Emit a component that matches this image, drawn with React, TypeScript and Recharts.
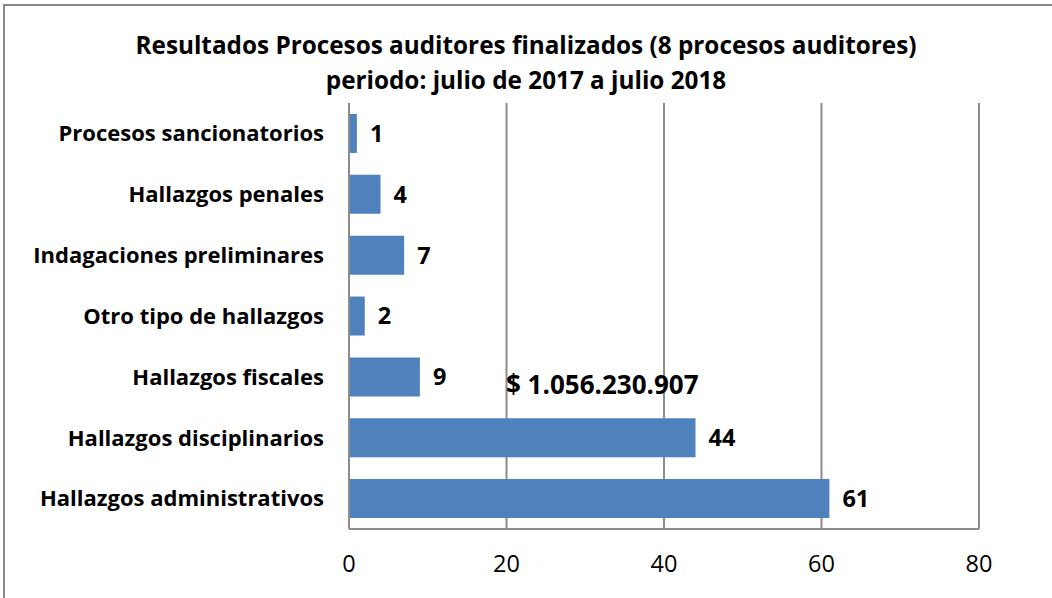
import { BarChart, Bar, XAxis, YAxis, CartesianGrid, LabelList } from "recharts";

const categories = [
  "Procesos sancionatorios",
  "Hallazgos penales ",
  "Indagaciones preliminares",
  "Otro tipo de hallazgos",
  "Hallazgos fiscales",
  "Hallazgos disciplinarios",
  "Hallazgos administrativos",
];
const values = [1, 4, 7, 2, 9, 44, 61];
const xTicks = [0, 20, 40, 60, 80];
const titleLines = [
  "Resultados Procesos auditores finalizados (8 procesos auditores)",
  "periodo: julio de 2017 a julio 2018",
];
const fiscalAmount = "$ 1.056.230.907";

const data = categories.map((name, i) => ({ name, value: values[i] }));

const FONT = "'Open Sans', Roboto, sans-serif";
const GRID = "#8c8c8c";

export default function App() {
  return (
    <div
      style={{
        position: "absolute",
        left: 0,
        top: 0,
        width: 1052,
        height: 598,
        overflow: "hidden",
        background: "#fff",
        fontFamily: FONT,
      }}
    >
      <div
        style={{
          position: "absolute",
          left: 3,
          top: 4,
          width: 1060,
          height: 610,
          border: "2px solid #888",
        }}
      />
      <div
        style={{
          position: "absolute",
          left: 0,
          top: 27,
          width: 1052,
          textAlign: "center",
          fontWeight: 700,
          fontSize: 24.3,
          lineHeight: "35px",
          color: "#000",
        }}
      >
        {titleLines.map((t) => (
          <div key={t}>{t}</div>
        ))}
      </div>
      <div style={{ position: "absolute", left: 0, top: 0 }}>
        <BarChart
          width={1052}
          height={598}
          data={data}
          layout="vertical"
          margin={{ top: 103, right: 73, left: 0, bottom: 9 }}
          barCategoryGap="18%"
        >
          <CartesianGrid horizontal={false} stroke={GRID} strokeWidth={2} />
          <XAxis
            type="number"
            domain={[0, 80]}
            ticks={xTicks}
            height={60}
            tickLine={false}
            tickSize={6}
            tickMargin={20}
            axisLine={{ stroke: GRID, strokeWidth: 2 }}
            tick={{ fontSize: 23.5, fill: "#000", fontFamily: FONT }}
          />
          <YAxis
            type="category"
            dataKey="name"
            width={349}
            tickLine={false}
            tickSize={6}
            tickMargin={19}
            axisLine={{ stroke: GRID, strokeWidth: 2 }}
            tick={{ fontSize: 22, fill: "#000", fontWeight: 700, fontFamily: FONT }}
          />
          <Bar dataKey="value" fill="#4f81bd" isAnimationActive={false}>
            <LabelList
              dataKey="value"
              position="right"
              offset={13}
              style={{ fontSize: 23.5, fontWeight: 700, fill: "#000", fontFamily: FONT }}
            />
          </Bar>
        </BarChart>
      </div>
      <div
        style={{
          position: "absolute",
          left: 506,
          top: 368,
          fontSize: 26,
          fontWeight: 700,
          lineHeight: "33px",
          color: "#000",
        }}
      >
        {fiscalAmount}
      </div>
    </div>
  );
}
